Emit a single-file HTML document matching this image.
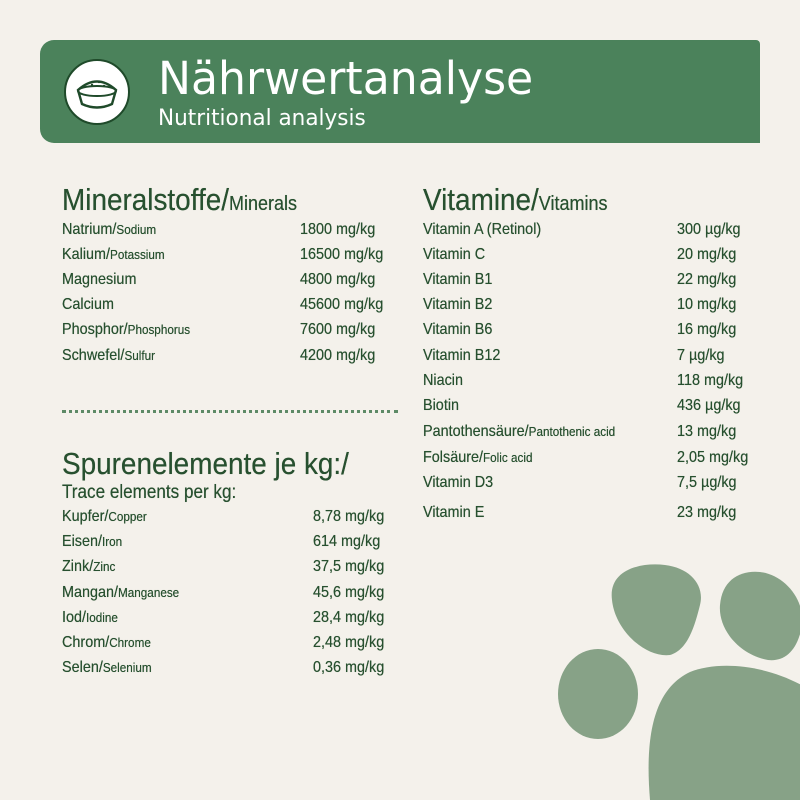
<!DOCTYPE html><html style="overflow:hidden;width:800px;height:800px"><head><style>
body{margin:0;width:800px;height:800px;background:#f4f1eb;position:relative;overflow:hidden;font-family:"Liberation Sans Narrow","Liberation Sans",sans-serif;color:#27502f}
.t{position:absolute;white-space:nowrap;transform:scaleX(.9);transform-origin:left center;line-height:1;text-shadow:0 0 .4px #27502f}
.r{font-size:16px}
.r small{font-size:13px}
.h{font-size:31px}
.h small{font-size:20px}
</style></head><body>
<div style="position:absolute;left:40px;top:40px;width:720px;height:103px;background:#4b825b;border-radius:14px 4px 0 14px"></div>
<svg style="position:absolute;left:62px;top:57px" width="70" height="70" viewBox="0 0 70 70">
<circle cx="35" cy="35" r="32" fill="#fff" stroke="#1f4a2a" stroke-width="2"/>
<path d="M16 33 Q35 16 54 33 L50 47 Q35 54 20 47 Z" fill="none" stroke="#1f4a2a" stroke-width="2.4"/>
<ellipse cx="35" cy="34" rx="19" ry="5" fill="none" stroke="#1f4a2a" stroke-width="2"/>
<circle cx="30" cy="28" r="1.2" fill="#1f4a2a"/><circle cx="37" cy="25" r="1.2" fill="#1f4a2a"/><circle cx="42" cy="29" r="1.2" fill="#1f4a2a"/></svg>
<div class="t" style="left:158px;top:56px;font-size:45px;color:#fff;font-family:'DejaVu Sans',sans-serif;transform:scaleX(.98);text-shadow:none">Nährwertanalyse</div>
<div class="t" style="left:158px;top:108px;font-size:22px;color:#fff;font-family:'DejaVu Sans',sans-serif;transform:scaleX(.98);text-shadow:none">Nutritional analysis</div>

<div class="t h" style="left:62px;top:184px">Mineralstoffe/<small>Minerals</small></div>
<div class="t h" style="left:423px;top:184px">Vitamine/<small>Vitamins</small></div>
<div class="t h" style="left:62px;top:448px">Spurenelemente je kg:/</div>
<div class="t" style="left:62px;top:483px;font-size:19px">Trace elements per kg:</div>
<div style="position:absolute;left:62px;top:410px;width:336px;border-top:3px dotted #5d8a66"></div>

<div class="t r" style="left:62px;top:222px">Natrium/<small>Sodium</small></div><div class="t r" style="left:300px;top:222px">1800 mg/kg</div>
<div class="t r" style="left:62px;top:247px">Kalium/<small>Potassium</small></div><div class="t r" style="left:300px;top:247px">16500 mg/kg</div>
<div class="t r" style="left:62px;top:272px">Magnesium</div><div class="t r" style="left:300px;top:272px">4800 mg/kg</div>
<div class="t r" style="left:62px;top:297px">Calcium</div><div class="t r" style="left:300px;top:297px">45600 mg/kg</div>
<div class="t r" style="left:62px;top:322px">Phosphor/<small>Phosphorus</small></div><div class="t r" style="left:300px;top:322px">7600 mg/kg</div>
<div class="t r" style="left:62px;top:348px">Schwefel/<small>Sulfur</small></div><div class="t r" style="left:300px;top:348px">4200 mg/kg</div>

<div class="t r" style="left:62px;top:509px">Kupfer/<small>Copper</small></div><div class="t r" style="left:313px;top:509px">8,78 mg/kg</div>
<div class="t r" style="left:62px;top:534px">Eisen/<small>Iron</small></div><div class="t r" style="left:313px;top:534px">614 mg/kg</div>
<div class="t r" style="left:62px;top:559px">Zink/<small>Zinc</small></div><div class="t r" style="left:313px;top:559px">37,5 mg/kg</div>
<div class="t r" style="left:62px;top:585px">Mangan/<small>Manganese</small></div><div class="t r" style="left:313px;top:585px">45,6 mg/kg</div>
<div class="t r" style="left:62px;top:610px">Iod/<small>Iodine</small></div><div class="t r" style="left:313px;top:610px">28,4 mg/kg</div>
<div class="t r" style="left:62px;top:635px">Chrom/<small>Chrome</small></div><div class="t r" style="left:313px;top:635px">2,48 mg/kg</div>
<div class="t r" style="left:62px;top:660px">Selen/<small>Selenium</small></div><div class="t r" style="left:313px;top:660px">0,36 mg/kg</div>

<div class="t r" style="left:423px;top:222px">Vitamin A (Retinol)</div><div class="t r" style="left:677px;top:222px">300 µg/kg</div>
<div class="t r" style="left:423px;top:247px">Vitamin C</div><div class="t r" style="left:677px;top:247px">20 mg/kg</div>
<div class="t r" style="left:423px;top:272px">Vitamin B1</div><div class="t r" style="left:677px;top:272px">22 mg/kg</div>
<div class="t r" style="left:423px;top:297px">Vitamin B2</div><div class="t r" style="left:677px;top:297px">10 mg/kg</div>
<div class="t r" style="left:423px;top:322px">Vitamin B6</div><div class="t r" style="left:677px;top:322px">16 mg/kg</div>
<div class="t r" style="left:423px;top:348px">Vitamin B12</div><div class="t r" style="left:677px;top:348px">7 µg/kg</div>
<div class="t r" style="left:423px;top:373px">Niacin</div><div class="t r" style="left:677px;top:373px">118 mg/kg</div>
<div class="t r" style="left:423px;top:398px">Biotin</div><div class="t r" style="left:677px;top:398px">436 µg/kg</div>
<div class="t r" style="left:423px;top:424px">Pantothensäure/<small>Pantothenic acid</small></div><div class="t r" style="left:677px;top:424px">13 mg/kg</div>
<div class="t r" style="left:423px;top:450px">Folsäure/<small>Folic acid</small></div><div class="t r" style="left:677px;top:450px">2,05 mg/kg</div>
<div class="t r" style="left:423px;top:475px">Vitamin D3</div><div class="t r" style="left:677px;top:475px">7,5 µg/kg</div>
<div class="t r" style="left:423px;top:505px">Vitamin E</div><div class="t r" style="left:677px;top:505px">23 mg/kg</div>

<svg style="position:absolute;left:0;top:0" width="800" height="800" viewBox="0 0 800 800">
<g fill="#87a287">
<path d="M612 600 C608 570 640 562 665 565 C690 568 705 585 700 605 C695 625 688 650 670 655 C645 658 615 630 612 600 Z"/>
<path d="M720 605 C722 580 740 570 760 572 C785 575 805 600 802 625 C798 650 785 662 768 660 C740 655 718 630 720 605 Z"/>
<ellipse cx="598" cy="694" rx="40" ry="45"/>
<path d="M650 800 C645 740 652 690 690 672 C720 660 770 665 810 690 L810 800 Z"/>
</g></svg>
</body></html>
